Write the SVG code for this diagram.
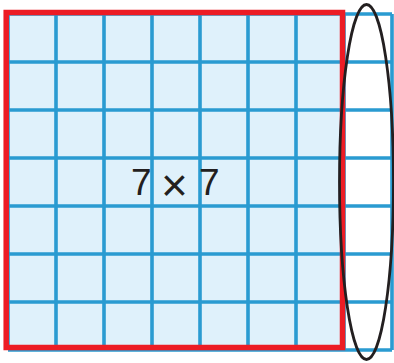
<svg xmlns="http://www.w3.org/2000/svg" width="394" height="363" viewBox="0 0 394 363">
<style>
.g{stroke:#2a9bd1;stroke-width:3.6;fill:none}
.t{font-family:"Liberation Sans",Arial,sans-serif;font-size:37px;fill:#231f20}
</style>
<rect width="394" height="363" fill="#fff"/>
<g id="grid">
<rect x="8" y="14" width="336" height="336" fill="#dff1fb"/>
<path class="g" d="M8 14V350M56 14V350M104 14V350M152 14V350M200 14V350M248 14V350M296 14V350M344 14V350M392 14V350"/>
<path class="g" d="M8 14H392M8 62H392M8 110H392M8 158H392M8 206H392M8 254H392M8 302H392M8 350H392"/>
</g>
<g id="square">
<rect x="6.2" y="12.5" width="336.3" height="335" fill="none" stroke="#ec1c24" stroke-width="5.5"/>
</g>
<g id="column">
<ellipse cx="366.5" cy="182" rx="27" ry="177.5" fill="none" stroke="#231f20" stroke-width="2.8"/>
</g>
<g id="label">
<text class="t" x="131" y="195">7</text>
<text class="t" x="161" y="201" style="font-size:46px;font-weight:300">×</text>
<text class="t" x="199" y="195">7</text>
</g>
</svg>
